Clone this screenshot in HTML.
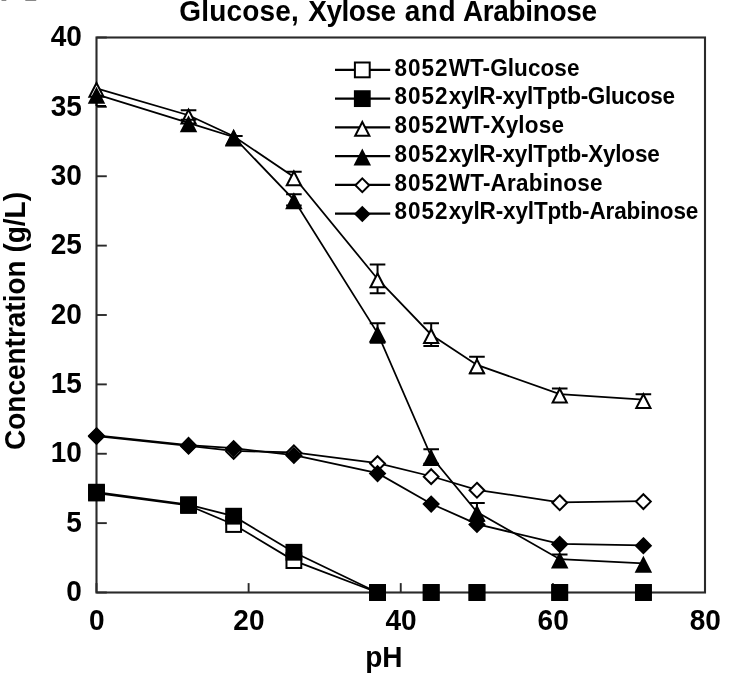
<!DOCTYPE html>
<html><head><meta charset="utf-8"><title>Glucose, Xylose and Arabinose</title>
<style>
html,body{margin:0;padding:0;background:#fff;}
body{width:731px;height:680px;overflow:hidden;position:relative;font-family:"Liberation Sans",sans-serif;}
svg text{font-family:"Liberation Sans",sans-serif;font-weight:bold;fill:#000;}
.tk{font-size:28px;}
.ti{font-size:28px;}
.lg{font-size:22.5px;}
</style></head><body>
<svg width="731" height="680" viewBox="0 0 731 680" style="display:block;position:absolute;left:0;top:0;filter:blur(0.55px)">
<rect width="731" height="680" fill="#fff"/>
<rect x="96.5" y="37.5" width="608.5" height="555.0" fill="none" stroke="#2a2a2a" stroke-width="2.1"/>
<line x1="96.5" y1="592.50" x2="106.8" y2="592.50" stroke="#2a2a2a" stroke-width="1.9"/>
<line x1="96.5" y1="523.12" x2="106.8" y2="523.12" stroke="#2a2a2a" stroke-width="1.9"/>
<line x1="96.5" y1="453.75" x2="106.8" y2="453.75" stroke="#2a2a2a" stroke-width="1.9"/>
<line x1="96.5" y1="384.38" x2="106.8" y2="384.38" stroke="#2a2a2a" stroke-width="1.9"/>
<line x1="96.5" y1="315.00" x2="106.8" y2="315.00" stroke="#2a2a2a" stroke-width="1.9"/>
<line x1="96.5" y1="245.62" x2="106.8" y2="245.62" stroke="#2a2a2a" stroke-width="1.9"/>
<line x1="96.5" y1="176.25" x2="106.8" y2="176.25" stroke="#2a2a2a" stroke-width="1.9"/>
<line x1="96.5" y1="106.88" x2="106.8" y2="106.88" stroke="#2a2a2a" stroke-width="1.9"/>
<line x1="96.5" y1="37.50" x2="106.8" y2="37.50" stroke="#2a2a2a" stroke-width="1.9"/>
<line x1="96.50" y1="592.5" x2="96.50" y2="583.1" stroke="#2a2a2a" stroke-width="1.9"/>
<line x1="248.62" y1="592.5" x2="248.62" y2="583.1" stroke="#2a2a2a" stroke-width="1.9"/>
<line x1="400.75" y1="592.5" x2="400.75" y2="583.1" stroke="#2a2a2a" stroke-width="1.9"/>
<line x1="552.88" y1="592.5" x2="552.88" y2="583.1" stroke="#2a2a2a" stroke-width="1.9"/>
<line x1="705.00" y1="592.5" x2="705.00" y2="583.1" stroke="#2a2a2a" stroke-width="1.9"/>
<polyline points="96.50,493.02 188.54,505.50 233.64,524.51 293.88,560.59 377.55,592.50" fill="none" stroke="#000" stroke-width="1.75"/>
<rect x="89.10" y="485.62" width="14.8" height="14.8" fill="#fff" stroke="#000" stroke-width="2"/>
<rect x="181.14" y="498.10" width="14.8" height="14.8" fill="#fff" stroke="#000" stroke-width="2"/>
<rect x="226.24" y="517.11" width="14.8" height="14.8" fill="#fff" stroke="#000" stroke-width="2"/>
<rect x="286.48" y="553.19" width="14.8" height="14.8" fill="#fff" stroke="#000" stroke-width="2"/>
<rect x="370.15" y="585.10" width="14.8" height="14.8" fill="#fff" stroke="#000" stroke-width="2"/>
<rect x="423.78" y="585.10" width="14.8" height="14.8" fill="#fff" stroke="#000" stroke-width="2"/>
<rect x="469.56" y="585.10" width="14.8" height="14.8" fill="#fff" stroke="#000" stroke-width="2"/>
<rect x="552.32" y="585.10" width="14.8" height="14.8" fill="#fff" stroke="#000" stroke-width="2"/>
<rect x="635.99" y="585.10" width="14.8" height="14.8" fill="#fff" stroke="#000" stroke-width="2"/>
<polyline points="96.50,492.18 188.54,504.67 233.64,516.19 293.88,552.26 377.55,592.50" fill="none" stroke="#000" stroke-width="1.75"/>
<rect x="89.10" y="484.78" width="14.8" height="14.8" fill="#000" stroke="#000" stroke-width="2"/>
<rect x="181.14" y="497.27" width="14.8" height="14.8" fill="#000" stroke="#000" stroke-width="2"/>
<rect x="226.24" y="508.79" width="14.8" height="14.8" fill="#000" stroke="#000" stroke-width="2"/>
<rect x="286.48" y="544.86" width="14.8" height="14.8" fill="#000" stroke="#000" stroke-width="2"/>
<rect x="370.15" y="585.10" width="14.8" height="14.8" fill="#000" stroke="#000" stroke-width="2"/>
<rect x="423.78" y="585.10" width="14.8" height="14.8" fill="#000" stroke="#000" stroke-width="2"/>
<rect x="469.56" y="585.10" width="14.8" height="14.8" fill="#000" stroke="#000" stroke-width="2"/>
<rect x="552.32" y="585.10" width="14.8" height="14.8" fill="#000" stroke="#000" stroke-width="2"/>
<rect x="635.99" y="585.10" width="14.8" height="14.8" fill="#000" stroke="#000" stroke-width="2"/>
<polyline points="96.50,88.42 188.54,115.20 233.64,136.29 293.88,176.94 377.55,278.93 431.18,334.70 476.96,364.95 559.72,394.09 643.39,399.64" fill="none" stroke="#000" stroke-width="1.75"/>
<path d="M188.54 110.20 V115.20 M180.74 110.20 H196.34 " fill="none" stroke="#000" stroke-width="2"/>
<path d="M293.88 171.74 V176.94 M286.08 171.74 H301.68 " fill="none" stroke="#000" stroke-width="2"/>
<path d="M377.55 264.62 V293.23 M369.75 264.62 H385.35 M369.75 293.23 H385.35" fill="none" stroke="#000" stroke-width="2"/>
<path d="M431.18 323.30 V346.10 M423.38 323.30 H438.98 M423.38 346.10 H438.98" fill="none" stroke="#000" stroke-width="2"/>
<path d="M476.96 356.75 V373.15 M469.16 356.75 H484.76 M469.16 373.15 H484.76" fill="none" stroke="#000" stroke-width="2"/>
<path d="M559.72 388.59 V394.09 M551.92 388.59 H567.52 " fill="none" stroke="#000" stroke-width="2"/>
<path d="M643.39 394.24 V399.64 M635.59 394.24 H651.19 " fill="none" stroke="#000" stroke-width="2"/>
<path d="M96.50 83.02 L103.60 96.82 L89.40 96.82 Z" fill="#fff" stroke="#000" stroke-width="2" stroke-linejoin="miter"/>
<path d="M188.54 109.80 L195.64 123.60 L181.44 123.60 Z" fill="#fff" stroke="#000" stroke-width="2" stroke-linejoin="miter"/>
<path d="M233.64 130.89 L240.74 144.69 L226.54 144.69 Z" fill="#fff" stroke="#000" stroke-width="2" stroke-linejoin="miter"/>
<path d="M293.88 171.54 L300.98 185.34 L286.78 185.34 Z" fill="#fff" stroke="#000" stroke-width="2" stroke-linejoin="miter"/>
<path d="M377.55 273.53 L384.65 287.32 L370.45 287.32 Z" fill="#fff" stroke="#000" stroke-width="2" stroke-linejoin="miter"/>
<path d="M431.18 329.30 L438.28 343.10 L424.07 343.10 Z" fill="#fff" stroke="#000" stroke-width="2" stroke-linejoin="miter"/>
<path d="M476.96 359.55 L484.06 373.35 L469.86 373.35 Z" fill="#fff" stroke="#000" stroke-width="2" stroke-linejoin="miter"/>
<path d="M559.72 388.69 L566.82 402.49 L552.62 402.49 Z" fill="#fff" stroke="#000" stroke-width="2" stroke-linejoin="miter"/>
<path d="M643.39 394.24 L650.49 408.04 L636.29 408.04 Z" fill="#fff" stroke="#000" stroke-width="2" stroke-linejoin="miter"/>
<polyline points="96.50,94.39 188.54,122.83 233.64,136.98 293.88,199.84 377.55,333.04 431.18,456.52 476.96,512.02 559.72,559.20 643.39,563.36" fill="none" stroke="#000" stroke-width="1.75"/>
<path d="M96.50 94.39 V105.99 M96.50 105.99 H106.00" fill="none" stroke="#000" stroke-width="2"/>
<path d="M188.54 119.83 V122.83 M180.74 119.83 H196.34 " fill="none" stroke="#000" stroke-width="2"/>
<path d="M233.64 136.08 V136.98 M230.64 136.08 H242.64 " fill="none" stroke="#000" stroke-width="2"/>
<path d="M293.88 194.24 V205.44 M286.08 194.24 H301.68 M286.08 205.44 H301.68" fill="none" stroke="#000" stroke-width="2"/>
<path d="M377.55 323.34 V342.74 M369.75 323.34 H385.35 M369.75 342.74 H385.35" fill="none" stroke="#000" stroke-width="2"/>
<path d="M431.18 449.32 V463.72 M423.38 449.32 H438.98 M423.38 463.72 H438.98" fill="none" stroke="#000" stroke-width="2"/>
<path d="M476.96 502.92 V521.12 M469.16 502.92 H484.76 M469.16 521.12 H484.76" fill="none" stroke="#000" stroke-width="2"/>
<path d="M559.72 554.60 V559.20 M551.92 554.60 H567.52 " fill="none" stroke="#000" stroke-width="2"/>
<path d="M96.50 88.99 L103.60 102.79 L89.40 102.79 Z" fill="#000" stroke="#000" stroke-width="2" stroke-linejoin="miter"/>
<path d="M188.54 117.43 L195.64 131.23 L181.44 131.23 Z" fill="#000" stroke="#000" stroke-width="2" stroke-linejoin="miter"/>
<path d="M233.64 131.58 L240.74 145.38 L226.54 145.38 Z" fill="#000" stroke="#000" stroke-width="2" stroke-linejoin="miter"/>
<path d="M293.88 194.44 L300.98 208.24 L286.78 208.24 Z" fill="#000" stroke="#000" stroke-width="2" stroke-linejoin="miter"/>
<path d="M377.55 327.64 L384.65 341.44 L370.45 341.44 Z" fill="#000" stroke="#000" stroke-width="2" stroke-linejoin="miter"/>
<path d="M431.18 451.12 L438.28 464.92 L424.07 464.92 Z" fill="#000" stroke="#000" stroke-width="2" stroke-linejoin="miter"/>
<path d="M476.96 506.62 L484.06 520.42 L469.86 520.42 Z" fill="#000" stroke="#000" stroke-width="2" stroke-linejoin="miter"/>
<path d="M559.72 553.80 L566.82 567.60 L552.62 567.60 Z" fill="#000" stroke="#000" stroke-width="2" stroke-linejoin="miter"/>
<path d="M643.39 557.96 L650.49 571.76 L636.29 571.76 Z" fill="#000" stroke="#000" stroke-width="2" stroke-linejoin="miter"/>
<polyline points="96.50,436.13 188.54,445.84 233.64,450.98 293.88,452.36 377.55,463.19 431.18,476.23 476.96,489.82 559.72,502.31 643.39,501.20" fill="none" stroke="#000" stroke-width="1.75"/>
<path d="M96.50 429.13 L103.90 436.53 L96.50 443.93 L89.10 436.53 Z" fill="#fff" stroke="#000" stroke-width="2"/>
<path d="M188.54 438.84 L195.94 446.24 L188.54 453.64 L181.14 446.24 Z" fill="#fff" stroke="#000" stroke-width="2"/>
<path d="M233.64 443.98 L241.04 451.38 L233.64 458.77 L226.24 451.38 Z" fill="#fff" stroke="#000" stroke-width="2"/>
<path d="M293.88 445.36 L301.28 452.76 L293.88 460.16 L286.48 452.76 Z" fill="#fff" stroke="#000" stroke-width="2"/>
<path d="M377.55 456.19 L384.95 463.58 L377.55 470.98 L370.15 463.58 Z" fill="#fff" stroke="#000" stroke-width="2"/>
<path d="M431.18 469.23 L438.57 476.63 L431.18 484.03 L423.78 476.63 Z" fill="#fff" stroke="#000" stroke-width="2"/>
<path d="M476.96 482.82 L484.36 490.22 L476.96 497.62 L469.56 490.22 Z" fill="#fff" stroke="#000" stroke-width="2"/>
<path d="M559.72 495.31 L567.12 502.71 L559.72 510.11 L552.32 502.71 Z" fill="#fff" stroke="#000" stroke-width="2"/>
<path d="M643.39 494.20 L650.79 501.60 L643.39 509.00 L635.99 501.60 Z" fill="#fff" stroke="#000" stroke-width="2"/>
<polyline points="96.50,435.30 188.54,445.01 233.64,448.20 293.88,455.14 377.55,473.18 431.18,503.70 476.96,524.10 559.72,543.94 643.39,545.33" fill="none" stroke="#000" stroke-width="1.75"/>
<path d="M96.50 428.30 L103.90 435.70 L96.50 443.10 L89.10 435.70 Z" fill="#000" stroke="#000" stroke-width="2"/>
<path d="M188.54 438.01 L195.94 445.41 L188.54 452.81 L181.14 445.41 Z" fill="#000" stroke="#000" stroke-width="2"/>
<path d="M233.64 441.20 L241.04 448.60 L233.64 456.00 L226.24 448.60 Z" fill="#000" stroke="#000" stroke-width="2"/>
<path d="M293.88 448.14 L301.28 455.54 L293.88 462.94 L286.48 455.54 Z" fill="#000" stroke="#000" stroke-width="2"/>
<path d="M377.55 466.18 L384.95 473.57 L377.55 480.97 L370.15 473.57 Z" fill="#000" stroke="#000" stroke-width="2"/>
<path d="M431.18 496.70 L438.57 504.10 L431.18 511.50 L423.78 504.10 Z" fill="#000" stroke="#000" stroke-width="2"/>
<path d="M476.96 517.10 L484.36 524.50 L476.96 531.90 L469.56 524.50 Z" fill="#000" stroke="#000" stroke-width="2"/>
<path d="M559.72 536.94 L567.12 544.34 L559.72 551.74 L552.32 544.34 Z" fill="#000" stroke="#000" stroke-width="2"/>
<path d="M643.39 538.33 L650.79 545.73 L643.39 553.12 L635.99 545.73 Z" fill="#000" stroke="#000" stroke-width="2"/>
<line x1="335" y1="69.9" x2="390.2" y2="69.9" stroke="#000" stroke-width="2.1"/>
<rect x="354.90" y="62.50" width="14.8" height="14.8" fill="#fff" stroke="#000" stroke-width="2"/>
<text class="lg" dx="0 1.05 1.05 1.05 1.05 0.08 0.08 0.08 0.08 0.08 0.08 0.08 0.08 0.08" transform="translate(394.4,75.70) scale(1,1.08)">8052WT-Glucose</text>
<line x1="335" y1="98.64" x2="390.2" y2="98.64" stroke="#000" stroke-width="2.1"/>
<rect x="354.90" y="91.24" width="14.8" height="14.8" fill="#000" stroke="#000" stroke-width="2"/>
<text class="lg" dx="0 1.05 1.05 1.05 1.05 -0.26 -0.26 -0.26 -0.26 -0.26 -0.26 -0.26 -0.26 -0.26 -0.26 -0.26 -0.26 -0.26 -0.26 -0.26 -0.26 -0.26 -0.26 -0.26" transform="translate(394.4,104.44) scale(1,1.08)">8052xylR-xylTptb-Glucose</text>
<line x1="335" y1="127.38" x2="390.2" y2="127.38" stroke="#000" stroke-width="2.1"/>
<path d="M362.30 121.98 L369.40 135.78 L355.20 135.78 Z" fill="#fff" stroke="#000" stroke-width="2" stroke-linejoin="miter"/>
<text class="lg" dx="0 1.05 1.05 1.05 1.05 0.18 0.18 0.18 0.18 0.18 0.18 0.18 0.18" transform="translate(394.4,133.18) scale(1,1.08)">8052WT-Xylose</text>
<line x1="335" y1="156.12" x2="390.2" y2="156.12" stroke="#000" stroke-width="2.1"/>
<path d="M362.30 150.72 L369.40 164.52 L355.20 164.52 Z" fill="#000" stroke="#000" stroke-width="2" stroke-linejoin="miter"/>
<text class="lg" dx="0 1.05 1.05 1.05 1.05 -0.23 -0.23 -0.23 -0.23 -0.23 -0.23 -0.23 -0.23 -0.23 -0.23 -0.23 -0.23 -0.23 -0.23 -0.23 -0.23 -0.23 -0.23" transform="translate(394.4,161.92) scale(1,1.08)">8052xylR-xylTptb-Xylose</text>
<line x1="335" y1="184.86" x2="390.2" y2="184.86" stroke="#000" stroke-width="2.1"/>
<path d="M362.30 178.36 L369.20 185.26 L362.30 192.16 L355.40 185.26 Z" fill="#fff" stroke="#000" stroke-width="2"/>
<text class="lg" dx="0 1.05 1.05 1.05 1.05 0.24 0.24 0.24 0.24 0.24 0.24 0.24 0.24 0.24 0.24 0.24" transform="translate(394.4,190.66) scale(1,1.08)">8052WT-Arabinose</text>
<line x1="335" y1="213.6" x2="390.2" y2="213.6" stroke="#000" stroke-width="2.1"/>
<path d="M362.30 207.10 L369.20 214.00 L362.30 220.90 L355.40 214.00 Z" fill="#000" stroke="#000" stroke-width="2"/>
<text class="lg" dx="0 1.05 1.05 1.05 1.05 -0.14 -0.14 -0.14 -0.14 -0.14 -0.14 -0.14 -0.14 -0.14 -0.14 -0.14 -0.14 -0.14 -0.14 -0.14 -0.14 -0.14 -0.14 -0.14 -0.14 -0.14" transform="translate(394.4,219.40) scale(1,1.08)">8052xylR-xylTptb-Arabinose</text>
<text class="tk" text-anchor="end" transform="translate(81.8,601.20) scale(1,1.08)">0</text>
<text class="tk" text-anchor="end" transform="translate(81.8,531.83) scale(1,1.08)">5</text>
<text class="tk" text-anchor="end" transform="translate(81.8,462.45) scale(1,1.08)">10</text>
<text class="tk" text-anchor="end" transform="translate(81.8,393.07) scale(1,1.08)">15</text>
<text class="tk" text-anchor="end" transform="translate(81.8,323.70) scale(1,1.08)">20</text>
<text class="tk" text-anchor="end" transform="translate(81.8,254.32) scale(1,1.08)">25</text>
<text class="tk" text-anchor="end" transform="translate(81.8,184.95) scale(1,1.08)">30</text>
<text class="tk" text-anchor="end" transform="translate(81.8,115.58) scale(1,1.08)">35</text>
<text class="tk" text-anchor="end" transform="translate(81.8,46.20) scale(1,1.08)">40</text>
<text class="tk" text-anchor="middle" transform="translate(96.80,629.6) scale(1,1.08)">0</text>
<text class="tk" text-anchor="middle" transform="translate(248.93,629.6) scale(1,1.08)">20</text>
<text class="tk" text-anchor="middle" transform="translate(401.05,629.6) scale(1,1.08)">40</text>
<text class="tk" text-anchor="middle" transform="translate(553.17,629.6) scale(1,1.08)">60</text>
<text class="tk" text-anchor="middle" transform="translate(705.30,629.6) scale(1,1.08)">80</text>
<text class="ti" dx="0 0.2 0.2 0.2 0.2 0.2 0.2 0.2 0.2 1.5 -0.5 -0.5 -0.5 -0.5 -0.5 -0.5 1.4 0.5 0.5 0.5 0.1 -0.34 -0.34 -0.34 -0.34 -0.34 -0.34 -0.34 -0.34" transform="translate(179.25,21) scale(1,1.08)">Glucose, Xylose and Arabinose</text>
<text class="tk" text-anchor="middle" transform="translate(383.8,667.4) scale(1,1.08)">pH</text>
<text class="tk" text-anchor="middle" transform="translate(25.4,321) rotate(-90) scale(1,1.08)">Concentration (g/L)</text>
<path d="M2.2 0 H5.6 M26 0 H35.5" stroke="#555" stroke-width="1.8" stroke-linecap="round" fill="none" opacity="0.7"/>
</svg>
</body></html>
